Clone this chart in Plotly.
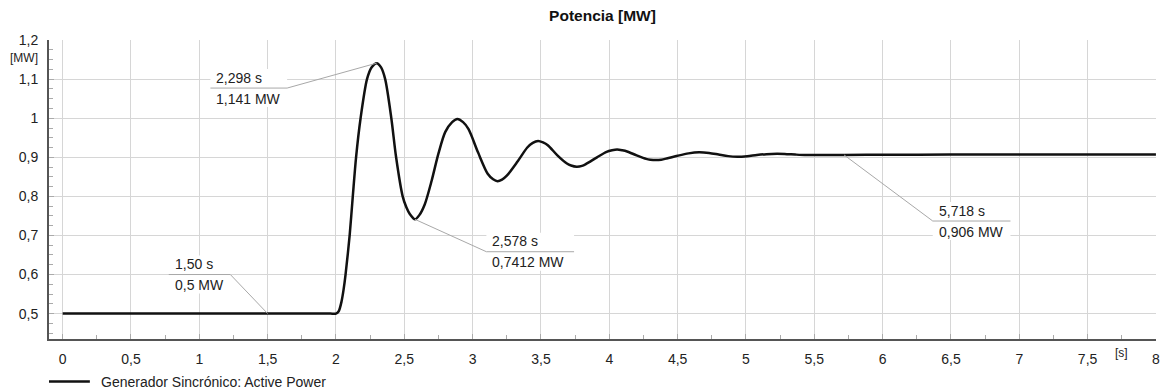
import plotly.graph_objects as go

# ---------------- data ----------------
time_s = [0.0, 1.0, 1.5, 1.8, 1.9, 1.96, 2.0, 2.02, 2.04, 2.055, 2.07, 2.10, 2.123, 2.147,
          2.18, 2.227, 2.26, 2.298, 2.33, 2.36, 2.405, 2.44, 2.488, 2.515, 2.54, 2.578,
          2.61, 2.65, 2.70, 2.75, 2.80, 2.85, 2.888, 2.93, 2.97, 3.04, 3.11, 3.15, 3.182,
          3.215, 3.25, 3.33, 3.40, 3.44, 3.479, 3.515, 3.55, 3.62, 3.69, 3.72, 3.761,
          3.80, 3.83, 3.91, 3.98, 4.02, 4.057, 4.095, 4.13, 4.20, 4.27, 4.30, 4.341,
          4.38, 4.42, 4.50, 4.58, 4.657, 4.73, 4.80, 4.87, 4.937, 5.01, 5.08, 5.15,
          5.228, 5.30, 5.36, 5.43, 5.495, 5.60, 5.718, 6.0, 6.5, 7.0, 7.5, 8.0]
power_mw = [0.5, 0.5, 0.5, 0.5, 0.5, 0.5, 0.5, 0.506, 0.53, 0.56, 0.60, 0.70, 0.80, 0.90,
            1.00, 1.10, 1.13, 1.141, 1.13, 1.10, 1.00, 0.90, 0.80, 0.772, 0.755, 0.7412,
            0.752, 0.78, 0.84, 0.91, 0.965, 0.99, 0.998, 0.99, 0.972, 0.912, 0.858, 0.844, 0.839,
            0.843, 0.853, 0.89, 0.925, 0.937, 0.942, 0.938, 0.931, 0.905, 0.884, 0.879, 0.876,
            0.878, 0.883, 0.90, 0.914, 0.918, 0.920, 0.918, 0.915, 0.905, 0.896, 0.894, 0.893,
            0.894, 0.897, 0.904, 0.910, 0.9128, 0.911, 0.907, 0.903, 0.9016, 0.903, 0.906, 0.908,
            0.909, 0.908, 0.907, 0.906, 0.9059, 0.906, 0.906, 0.9065, 0.907, 0.907, 0.907, 0.907]

marker_t = [1.50, 2.298, 2.578, 5.718]
marker_v = [0.5, 1.141, 0.7412, 0.906]
marker_t_text = ["1,50 s", "2,298 s", "2,578 s", "5,718 s"]
marker_v_text = ["0,5 MW", "1,141 MW", "0,7412 MW", "0,906 MW"]

series_name = "Generador Sincrónico: Active Power"
title_text = "Potencia [MW]"

# ---------------- layout constants ----------------
W, H = 1169, 392
ML, MR, MT, MB = 49, 9, 40, 53
PW, PH = W - ML - MR, H - MT - MB
XR = [-0.1, 8.0]
YR = [0.435, 1.2]
FONT = "Liberation Sans, Arial, sans-serif"
TXT = "#222222"
GRID = "#d6d6d6"


def X(px):
    return XR[0] + (px - ML) / PW * (XR[1] - XR[0])


def Y(py):
    return YR[1] - (py - MT) / PH * (YR[1] - YR[0])


def PXp(px):
    return (px - ML) / PW


def PYp(py):
    return (MT + PH - py) / PH


# label boxes: separator left px, right px, separator y px (pixel positions of the callouts)
boxes = [(169, 231, 274.5), (211, 288, 88), (488, 576, 251.7), (936, 1014, 221)]
# which end of the separator the leader starts from
leader_from = ["right", "right", "left", "left"]

fig = go.Figure()
fig.add_trace(go.Scatter(
    x=time_s, y=power_mw, mode="lines", name=series_name,
    line=dict(color="#111111", width=2.5, shape="spline", smoothing=0.8),
    showlegend=False, hoverinfo="skip",
))

shapes = []
annotations = []
for i, (x0, x1, ys) in enumerate(boxes):
    # white box
    shapes.append(dict(type="rect", xref="x", yref="y", layer="above",
                       x0=X(x0), x1=X(x1), y0=Y(ys - 19), y1=Y(ys + 19),
                       fillcolor="white", line=dict(width=0)))
    # separator
    shapes.append(dict(type="line", xref="x", yref="y", layer="above",
                       x0=X(x0), x1=X(x1), y0=Y(ys), y1=Y(ys),
                       line=dict(color="#a8a8a8", width=1)))
    # leader
    sx = x1 if leader_from[i] == "right" else x0
    shapes.append(dict(type="line", xref="x", yref="y", layer="above",
                       x0=X(sx), y0=Y(ys), x1=marker_t[i], y1=marker_v[i],
                       line=dict(color="#a8a8a8", width=1)))
    annotations.append(dict(xref="x", yref="y", x=X(x0 + 4), y=Y(ys - 10.5),
                            text=marker_t_text[i], showarrow=False,
                            xanchor="left", yanchor="middle",
                            font=dict(family=FONT, size=14, color=TXT)))
    annotations.append(dict(xref="x", yref="y", x=X(x0 + 4), y=Y(ys + 10.5),
                            text=marker_v_text[i], showarrow=False,
                            xanchor="left", yanchor="middle",
                            font=dict(family=FONT, size=14, color=TXT)))

# unit labels
annotations.append(dict(xref="paper", yref="paper", x=PXp(40), y=PYp(58),
                        text="[MW]", showarrow=False, xanchor="right", yanchor="middle",
                        font=dict(family=FONT, size=12, color=TXT)))
annotations.append(dict(xref="x", yref="paper", x=7.75, y=PYp(353),
                        text="[s]", showarrow=False, xanchor="center", yanchor="middle",
                        font=dict(family=FONT, size=12, color=TXT)))

# legend drawn manually
shapes.append(dict(type="line", xref="paper", yref="paper",
                   x0=PXp(49), x1=PXp(90), y0=PYp(381.5), y1=PYp(381.5),
                   line=dict(color="#111111", width=2.5)))
annotations.append(dict(xref="paper", yref="paper", x=PXp(99), y=PYp(381.5),
                        text=series_name, showarrow=False, xanchor="left", yanchor="middle",
                        font=dict(family=FONT, size=14, color=TXT)))

fig.update_layout(
    width=W, height=H,
    margin=dict(l=ML, r=MR, t=MT, b=MB, pad=0),
    paper_bgcolor="white", plot_bgcolor="white",
    separators=", ",
    font=dict(family=FONT, size=14, color=TXT),
    title=dict(text="<b>" + title_text + "</b>", x=0.5, xref="paper", xanchor="center",
               y=1 - 16 / H, yref="container", yanchor="middle",
               font=dict(family=FONT, size=15.5, color="#111111")),
    showlegend=False,
    shapes=shapes,
    annotations=annotations,
    xaxis=dict(range=[XR[0], XR[1] + 0.0005], tick0=0, dtick=0.5,
               showgrid=True, gridcolor=GRID, gridwidth=1, zeroline=False,
               showline=True, linecolor="#555555", linewidth=2,
               ticks="inside", ticklen=5, tickcolor="#aaaaaa",
               minor=dict(dtick=0.25, tick0=0, ticks="inside", ticklen=4,
                          tickcolor="#aaaaaa", showgrid=False),
               ticklabelstandoff=6,
               tickfont=dict(family=FONT, size=14, color=TXT)),
    yaxis=dict(range=[YR[0], YR[1] + 0.0002], tick0=0, dtick=0.1,
               showgrid=True, gridcolor=GRID, gridwidth=1, zeroline=False,
               showline=True, linecolor="#555555", linewidth=2,
               ticks="inside", ticklen=5, tickcolor="#aaaaaa",
               minor=dict(dtick=0.025, tick0=0, ticks="inside", ticklen=4,
                          tickcolor="#aaaaaa", showgrid=False),
               ticklabelstandoff=6,
               tickfont=dict(family=FONT, size=14, color=TXT)),
)

fig.write_html("out.html",
               config={"displayModeBar": False},
               post_script="document.body.style.margin='0';document.body.style.padding='0';")
